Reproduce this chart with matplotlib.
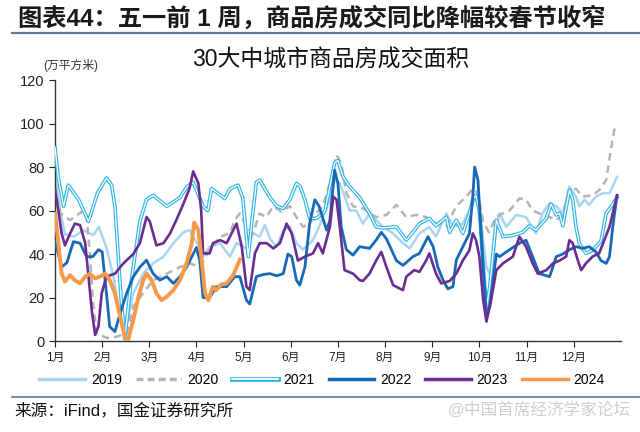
import numpy as np
import matplotlib
matplotlib.use("Agg")
import matplotlib.pyplot as plt
import matplotlib.patheffects as pe
from matplotlib.lines import Line2D

plt.rcParams['font.family'] = ['Liberation Sans', 'Noto Sans CJK SC', 'DejaVu Sans']

# x = position in months (0 = 1月1日), y = 万平方米
m2019 = [0, 0.11, 0.21, 0.4, 0.6, 0.81, 0.93, 1.09, 1.24, 1.38, 1.48, 1.66, 1.87, 2.08, 2.3, 2.51,
         2.72, 2.85, 2.93, 3.07, 3.14, 3.28, 3.5, 3.71, 3.85, 4.06, 4.2, 4.34, 4.45, 4.56, 4.7, 4.84,
         4.98, 5.12, 5.26, 5.47, 5.6, 5.83, 5.93, 6.04, 6.25, 6.39, 6.53, 6.67, 6.81, 6.96, 7.17,
         7.38, 7.52, 7.73, 7.94, 8.08, 8.3, 8.44, 8.65, 8.79, 8.93, 9.0, 9.15, 9.25, 9.36, 9.43,
         9.57, 9.78, 9.99, 10.2, 10.34, 10.49, 10.63, 10.77, 10.91, 11.05, 11.12, 11.23, 11.33,
         11.47, 11.62, 11.76, 11.92]
v2019 = [75.5, 60, 49, 48, 51, 48.7, 52.5, 43, 29.6, 11, 3.5, 22, 31, 35.7, 38.8, 45,
         50, 51, 48, 43, 38.8, 43.4, 45, 38.8, 45, 42.6, 49.5, 48, 53.4, 47, 43.4, 51,
         52.5, 45, 42, 46.4, 52.5, 65, 74, 72.5, 60, 60, 54, 58.7, 55.6, 52.5, 49.5,
         45, 42.6, 49.5, 52.5, 48, 58.7, 52.5, 54, 60, 66.4, 62, 34, 29.6, 52.5, 58.7,
         52.5, 58, 57, 49.5, 58.7, 63.5, 62, 58.7, 71, 66.4, 62, 65, 62.6,
         66.4, 68, 68, 75.5]

m2020 = [0, 0.11, 0.32, 0.6, 0.67, 0.74, 0.81, 0.88, 1.1, 1.31, 1.52, 1.66, 1.87, 2.08, 2.37, 2.65,
         2.86, 3.07, 3.28, 3.5, 3.71, 3.81, 3.92, 4.06, 4.2, 4.34, 4.48, 4.63, 4.8, 4.98, 5.12,
         5.26, 5.4, 5.54, 5.68, 5.83, 5.97, 6.07, 6.18, 6.32, 6.53, 6.81, 7.03, 7.24, 7.45, 7.66,
         7.87, 8.08, 8.3, 8.51, 8.72, 8.86, 8.97, 9.08, 9.2, 9.36, 9.5, 9.64, 9.85, 9.99, 10.13,
         10.27, 10.49, 10.63, 10.77, 10.91, 11.05, 11.19, 11.4, 11.54, 11.69, 11.79, 11.86, 11.92]
v2020 = [72, 58.7, 55.6, 60, 57, 40, 17, 3.7, 1.4, 2, 3.7, 16, 22, 28, 31, 34,
         35.7, 34, 42, 48, 49.5, 55.6, 58.7, 52.5, 49.5, 58.7, 57, 62, 59.5, 62, 57,
         52.5, 54, 58.7, 62, 72.5, 85.6, 81.7, 68, 62, 61, 57, 58, 62.6, 57, 58,
         57, 54, 53, 62, 66.4, 70, 68, 55, 50, 57, 58.7, 60, 65.6, 65, 60,
         58.7, 57, 55.6, 58, 69, 70, 66.4, 67, 69.4, 74, 88, 97, 98.6]

m2021 = [0, 0.07, 0.18, 0.28, 0.5, 0.71, 0.9, 1.09, 1.2, 1.27, 1.4, 1.48, 1.6, 1.8, 1.94, 2.08,
         2.37, 2.65, 2.8, 2.93, 3.14, 3.24, 3.32, 3.45, 3.6, 3.71, 3.88, 3.98, 4.1, 4.17, 4.27,
         4.34, 4.45, 4.56, 4.7, 4.84, 4.98, 5.12, 5.2, 5.3, 5.4, 5.54, 5.72, 5.83, 5.93, 6.0,
         6.11, 6.25, 6.46, 6.67, 6.81, 6.96, 7.24, 7.45, 7.59, 7.73, 7.94, 8.08, 8.3, 8.37, 8.51,
         8.65, 8.79, 8.86, 8.93, 9.0, 9.08, 9.15, 9.22, 9.36, 9.5, 9.71, 9.92, 10.06, 10.2, 10.42,
         10.52, 10.63, 10.7, 10.77, 10.91, 10.98, 11.05, 11.12, 11.26, 11.4, 11.58, 11.69, 11.8, 11.92]
v2021 = [89, 75, 62, 71.7, 65, 55, 68, 75, 71.7, 62, 20, 1, 25, 55, 65, 67,
         62, 66, 71, 73, 62, 60, 70, 68, 65.5, 70, 71.7, 66, 38.8, 54, 73,
         74, 70, 66, 62, 61, 65, 72.5, 71, 65, 56.4, 56.4, 59.5, 71, 82, 83,
         75.5, 71, 66, 58.7, 52.5, 52, 52.5, 46.4, 50, 54, 56.4, 53, 57, 50, 55.6,
         49.5, 58.7, 65, 67, 60, 35, 15, 25, 55.6, 48, 48.6, 50, 53, 51, 56.4,
         63, 58, 58.7, 53, 69.4, 65, 52.5, 45, 40.3, 41.8, 46, 58.7, 62, 66]

m2022 = [0, 0.14, 0.25, 0.39, 0.53, 0.67, 0.8, 0.92, 1.0, 1.09, 1.16, 1.27, 1.38, 1.52, 1.66, 1.8,
         1.94, 2.08, 2.22, 2.37, 2.51, 2.65, 2.79, 2.93, 3.0, 3.07, 3.14, 3.28, 3.42, 3.64, 3.81,
         3.92, 4.06, 4.13, 4.27, 4.42, 4.56, 4.7, 4.84, 4.94, 5.02, 5.12, 5.19, 5.3, 5.4, 5.51,
         5.6, 5.76, 5.83, 5.93, 6.0, 6.07, 6.18, 6.32, 6.46, 6.67, 6.81, 6.92, 7.03, 7.24, 7.38,
         7.59, 7.73, 7.91, 8.02, 8.12, 8.23, 8.33, 8.44, 8.51, 8.65, 8.79, 8.86, 8.9, 8.97, 9.08,
         9.15, 9.22, 9.36, 9.43, 9.64, 9.85, 9.99, 10.13, 10.27, 10.49, 10.63, 10.77, 10.91, 11.05,
         11.19, 11.33, 11.47, 11.58, 11.69, 11.76, 11.83, 11.92]
v2022 = [46, 34, 36, 45.7, 45, 38.8, 38.8, 42, 41, 22, 6.6, 4.3, 12.7, 22, 29.6, 34,
         37.2, 31, 28, 29.6, 26.5, 29.6, 34, 40, 43, 37, 20, 20, 25, 25, 29.6,
         29.6, 18.8, 17, 29.6, 30.6, 31, 30, 31, 40, 38.8, 28, 25.7, 34, 54, 65,
         62, 51, 55.6, 78.6, 72.5, 52.5, 42, 39.5, 43.4, 42.6, 46.4, 50, 47, 37, 34.8,
         38.8, 40.3, 48, 43.4, 34, 28, 24, 25, 37.2, 43.4, 49.5, 66.4, 80, 74, 34,
         12.6, 15.6, 40, 38.8, 42, 45, 46.4, 38.8, 31, 29.6, 38.8, 40, 42, 43.4,
         42.6, 43.4, 41, 37, 35.7, 38.8, 52.5, 67]

m2023 = [0, 0.07, 0.14, 0.21, 0.32, 0.42, 0.53, 0.64, 0.71, 0.78, 0.85, 0.92, 0.99, 1.09, 1.27, 1.45,
         1.66, 1.8, 1.94, 2.01, 2.15, 2.3, 2.44, 2.58, 2.72, 2.85, 2.93, 3.04, 3.1, 3.14, 3.28,
         3.35, 3.5, 3.64, 3.78, 3.85, 3.96, 4.06, 4.13, 4.24, 4.34, 4.49, 4.63, 4.77, 4.91, 5.02,
         5.15, 5.3, 5.47, 5.58, 5.68, 5.83, 5.9, 5.97, 6.04, 6.14, 6.32, 6.46, 6.53, 6.67, 6.81,
         6.92, 7.03, 7.17, 7.38, 7.45, 7.62, 7.73, 7.87, 7.94, 8.08, 8.19, 8.37, 8.51, 8.65, 8.79,
         8.86, 8.93, 9.0, 9.08, 9.15, 9.25, 9.36, 9.5, 9.71, 9.85, 9.99, 10.13, 10.24, 10.42, 10.56,
         10.7, 10.84, 10.91, 10.98, 11.09, 11.16, 11.26, 11.4, 11.54, 11.65, 11.76, 11.92]
v2023 = [69.4, 60, 49.5, 44, 49.5, 54, 53.3, 45, 29.6, 14, 2.8, 6.6, 22, 29.6, 31, 35.7,
         40, 45, 57, 55, 44, 45, 49.5, 56, 63, 70, 78, 72.5, 60, 40.3, 40.3,
         45, 46.4, 45, 51, 54, 43.4, 25, 23.4, 40.3, 45, 45, 42.6, 45, 54, 49.5,
         37, 38.8, 40.3, 45, 40.3, 52.5, 66.4, 65, 52.5, 32.6, 31, 28, 27.6, 31, 37,
         41, 34, 25.7, 23.4, 29.6, 32.6, 31.8, 37, 40.3, 31, 26.5, 27.6, 31, 37, 41.8,
         49.5, 46.4, 38.8, 19, 8.9, 19, 32.6, 35.7, 38.8, 48, 43.4, 35.7, 31, 32.6, 35.7,
         37, 38.8, 46.4, 45, 37, 32.6, 35.7, 38.8, 40.3, 46.4, 52.5, 67]

m2024 = [0, 0.07, 0.14, 0.21, 0.32, 0.42, 0.53, 0.64, 0.74, 0.85, 0.95, 1.06, 1.16, 1.27, 1.38, 1.48,
         1.55, 1.66, 1.77, 1.87, 1.94, 2.05, 2.15, 2.26, 2.37, 2.51, 2.65, 2.79, 2.9, 2.95, 3.04,
         3.11, 3.18, 3.25, 3.35, 3.42, 3.52, 3.64, 3.78, 3.92]
v2024 = [58.7, 45, 31, 27.3, 30.3, 28, 26.5, 29.6, 31, 28.8, 29.6, 31, 28, 22, 11.2, 2,
         0.5, 9.7, 20.4, 28, 31, 28, 22, 18.8, 20.4, 23.4, 28, 35.7, 45, 54.5, 51,
         37.2, 22, 18.8, 25, 23.4, 26, 26.5, 30.3, 37.5]

months = [f"{i}月" for i in range(1, 13)]

c2019 = "#a8d5f0"
c2020 = "#b4b4b4"
c2021 = "#2fb4e9"
c2022 = "#1768b5"
c2023 = "#6a2d91"
c2024 = "#f5994a"

# double (hollow) line look for 2021
hollow = [pe.Stroke(linewidth=2.6, foreground=c2021), pe.Normal()]
hollow_leg = [pe.Stroke(linewidth=3.4, foreground=c2021), pe.Normal()]

fig = plt.figure(figsize=(6.4, 4.32), dpi=100)
ax = fig.add_axes([0.086, 0.2106, 0.884, 0.604])

ax.plot(m2019, v2019, color=c2019, lw=1.8, zorder=2)
ax.plot(m2020, v2020, color=c2020, lw=1.8, ls=(0, (3, 2)), zorder=2)
ax.plot(m2021, v2021, color="white", lw=0.9, zorder=3, path_effects=hollow)
ax.plot(m2022, v2022, color=c2022, lw=2.0, zorder=4)
ax.plot(m2023, v2023, color=c2023, lw=1.9, zorder=5)
ax.plot(m2024, v2024, color=c2024, lw=2.8, zorder=6)

ax.set_xlim(0, 12)
ax.set_ylim(0, 120)
ax.set_yticks(np.arange(0, 121, 20))
ax.set_xticks(np.arange(12))
ax.set_xticklabels(months, fontsize=8.5)
ax.tick_params(axis="y", labelsize=10.5, direction="out", length=4, colors="#222222")
ax.tick_params(axis="x", direction="out", length=4, colors="#222222", pad=4)
for s in ["top", "right"]:
    ax.spines[s].set_visible(False)
for s in ["left", "bottom"]:
    ax.spines[s].set_color("#333333")
    ax.spines[s].set_linewidth(1)

# legend
h2019 = Line2D([], [], color=c2019, lw=2.5)
h2020 = Line2D([], [], color=c2020, lw=2.5, ls=(0, (2, 1.2)))
h2021 = Line2D([], [], color="white", lw=1.3, path_effects=hollow_leg)
h2022 = Line2D([], [], color=c2022, lw=2.5)
h2023 = Line2D([], [], color=c2023, lw=2.5)
h2024 = Line2D([], [], color=c2024, lw=2.5)
fig.legend([h2019, h2020, h2021, h2022, h2023, h2024],
           ["2019", "2020", "2021", "2022", "2023", "2024"],
           loc="center", bbox_to_anchor=(0.503, 0.12), ncol=6, frameon=False,
           fontsize=10, handlelength=3.3, handletextpad=0.4, columnspacing=1.0)

# titles and notes
fig.text(0.028, 0.958, "图表44：五一前 1 周，商品房成交同比降幅较春节收窄", fontsize=17.5,
         fontweight="bold", color="#1a1a1a", ha="left", va="center")
fig.add_artist(Line2D([0.019, 1.0], [0.924, 0.924], color="#5b7d9b", lw=1.6))
fig.text(0.517, 0.861, "30大中城市商品房成交面积", fontsize=16.5, ha="center", va="center",
         color="#111111")
fig.text(0.11, 0.849, "(万平方米)", fontsize=8.5, ha="center", va="center", color="#333333")
fig.add_artist(Line2D([0.019, 1.0], [0.081, 0.081], color="#5b7d9b", lw=1.2))
fig.text(0.023, 0.051, "来源：iFind，国金证券研究所", fontsize=12, ha="left", va="center",
         color="#111111")
fig.text(0.985, 0.051, "@中国首席经济学家论坛", fontsize=12, ha="right", va="center",
         color="#cfcfcf")

fig.savefig("out.png", dpi=100)
